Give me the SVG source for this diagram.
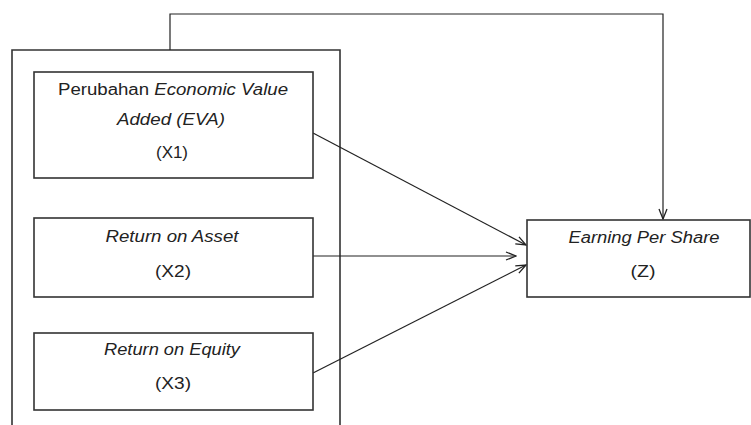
<svg xmlns="http://www.w3.org/2000/svg" width="751" height="425" viewBox="0 0 751 425">
<style>
  .box { fill: #ffffff; stroke: #333333; stroke-width: 1.6; }
  .frame { fill: none; stroke: #333333; stroke-width: 1.6; }
  .t { font-family: "Liberation Sans", Arial, sans-serif; font-size: 16px; fill: #222222; text-anchor: middle; }
  .i { font-style: italic; }
  .conn { fill: none; stroke: #222222; stroke-width: 1.2; }
</style>
<defs>
  <marker id="arr" viewBox="0 0 12 10" refX="11" refY="5" markerWidth="12" markerHeight="10" markerUnits="userSpaceOnUse" orient="auto">
    <path d="M1,1 L11,5 L1,9" fill="none" stroke="#222222" stroke-width="1.3"/>
  </marker>
</defs>
<rect width="751" height="425" fill="#ffffff"/>
<g id="frame">
  <path class="frame" d="M12,426 V50 H340 V426"/>
</g>
<g id="connectors">
  <path class="conn" d="M170,50 V14 H663 V219" marker-end="url(#arr)"/>
  <line class="conn" x1="313" y1="133" x2="526" y2="245" marker-end="url(#arr)"/>
  <line class="conn" x1="313" y1="256" x2="516" y2="256" marker-end="url(#arr)"/>
  <line class="conn" x1="313" y1="373" x2="526" y2="265" marker-end="url(#arr)"/>
</g>
<g id="x1">
  <rect class="box" x="34" y="72" width="279" height="106"/>
  <text class="t" x="173" y="95" textLength="230" lengthAdjust="spacingAndGlyphs">Perubahan <tspan class="i">Economic Value</tspan></text>
  <text class="t i" x="171" y="125" textLength="108" lengthAdjust="spacingAndGlyphs">Added (EVA)</text>
  <text class="t" x="172" y="158" textLength="32" lengthAdjust="spacingAndGlyphs">(X1)</text>
</g>
<g id="x2">
  <rect class="box" x="34" y="218" width="279" height="79"/>
  <text class="t i" x="172" y="242" textLength="133" lengthAdjust="spacingAndGlyphs">Return on Asset</text>
  <text class="t" x="173" y="277" textLength="36" lengthAdjust="spacingAndGlyphs">(X2)</text>
</g>
<g id="x3">
  <rect class="box" x="34" y="333" width="279" height="77"/>
  <text class="t i" x="172" y="355" textLength="136" lengthAdjust="spacingAndGlyphs">Return on Equity</text>
  <text class="t" x="173" y="389" textLength="36" lengthAdjust="spacingAndGlyphs">(X3)</text>
</g>
<g id="z">
  <rect class="box" x="527" y="220" width="223" height="77"/>
  <text class="t i" x="644" y="243" textLength="151" lengthAdjust="spacingAndGlyphs">Earning Per Share</text>
  <text class="t" x="643" y="277" textLength="25" lengthAdjust="spacingAndGlyphs">(Z)</text>
</g>
</svg>
